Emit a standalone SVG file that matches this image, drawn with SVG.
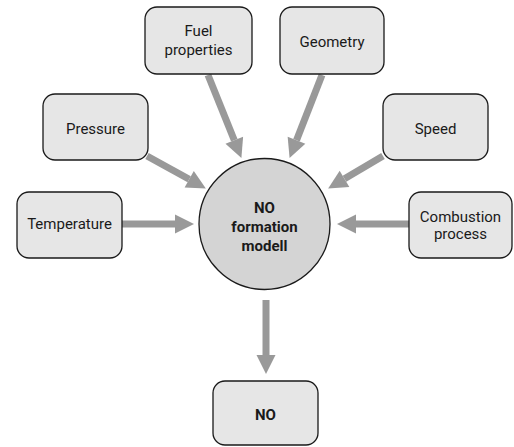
<svg xmlns="http://www.w3.org/2000/svg" width="514" height="447" viewBox="0 0 514 447">
<defs>
<marker id="ah" markerUnits="userSpaceOnUse" markerWidth="20" markerHeight="20" refX="0" refY="0" orient="auto" overflow="visible">
<path d="M0,-9.5 L19,0 L0,9.5 z" fill="#999999"/>
</marker>
<style>
.box{fill:#e6e6e6;stroke:#1a1a1a;stroke-width:1.3}
.circ{fill:#d4d4d4;stroke:#1a1a1a;stroke-width:1.3}
.t{font-family:Roboto,"Liberation Sans",sans-serif;font-size:15px;fill:#1a1a1a;text-anchor:middle}
.b{font-weight:bold}
.c{stroke:#999999;stroke-width:7;fill:none;marker-end:url(#ah)}
</style>
</defs>
<rect width="514" height="447" fill="#ffffff"/>
<g id="connectors">
<line class="c" x1="208" y1="75" x2="234.3" y2="140.3"/>
<line class="c" x1="322" y1="75" x2="296.5" y2="140.2"/>
<line class="c" x1="147" y1="156" x2="189.2" y2="179.3"/>
<line class="c" x1="383" y1="156" x2="344.5" y2="178.8"/>
<line class="c" x1="122" y1="224" x2="175" y2="224"/>
<line class="c" x1="409" y1="224" x2="356" y2="224"/>
<line class="c" x1="266" y1="300" x2="266" y2="355"/>
</g>
<g id="fuel">
<rect class="box" x="145" y="7" width="107" height="67" rx="12"/>
<text class="t" x="198.5" y="36">Fuel</text>
<text class="t" x="198.5" y="55">properties</text>
</g>
<g id="geometry">
<rect class="box" x="280" y="7" width="104" height="67" rx="12"/>
<text class="t" x="332" y="47">Geometry</text>
</g>
<g id="pressure">
<rect class="box" x="43" y="94" width="105" height="66" rx="12"/>
<text class="t" x="95.5" y="134">Pressure</text>
</g>
<g id="speed">
<rect class="box" x="383" y="94" width="105" height="66" rx="12"/>
<text class="t" x="435.5" y="134">Speed</text>
</g>
<g id="temperature">
<rect class="box" x="17" y="192" width="105" height="66" rx="12"/>
<text class="t" x="69.5" y="229">Temperature</text>
</g>
<g id="combustion">
<rect class="box" x="409" y="192" width="103" height="66" rx="12"/>
<text class="t" x="460.5" y="222">Combustion</text>
<text class="t" x="460.5" y="239">process</text>
</g>
<g id="model">
<circle class="circ" cx="264.5" cy="224" r="65.5"/>
<text class="t b" x="264.5" y="213">NO</text>
<text class="t b" x="264.5" y="232">formation</text>
<text class="t b" x="264.5" y="251">modell</text>
</g>
<g id="no">
<rect class="box" x="213" y="381" width="105" height="64" rx="12"/>
<text class="t b" x="265.5" y="420">NO</text>
</g>
</svg>
